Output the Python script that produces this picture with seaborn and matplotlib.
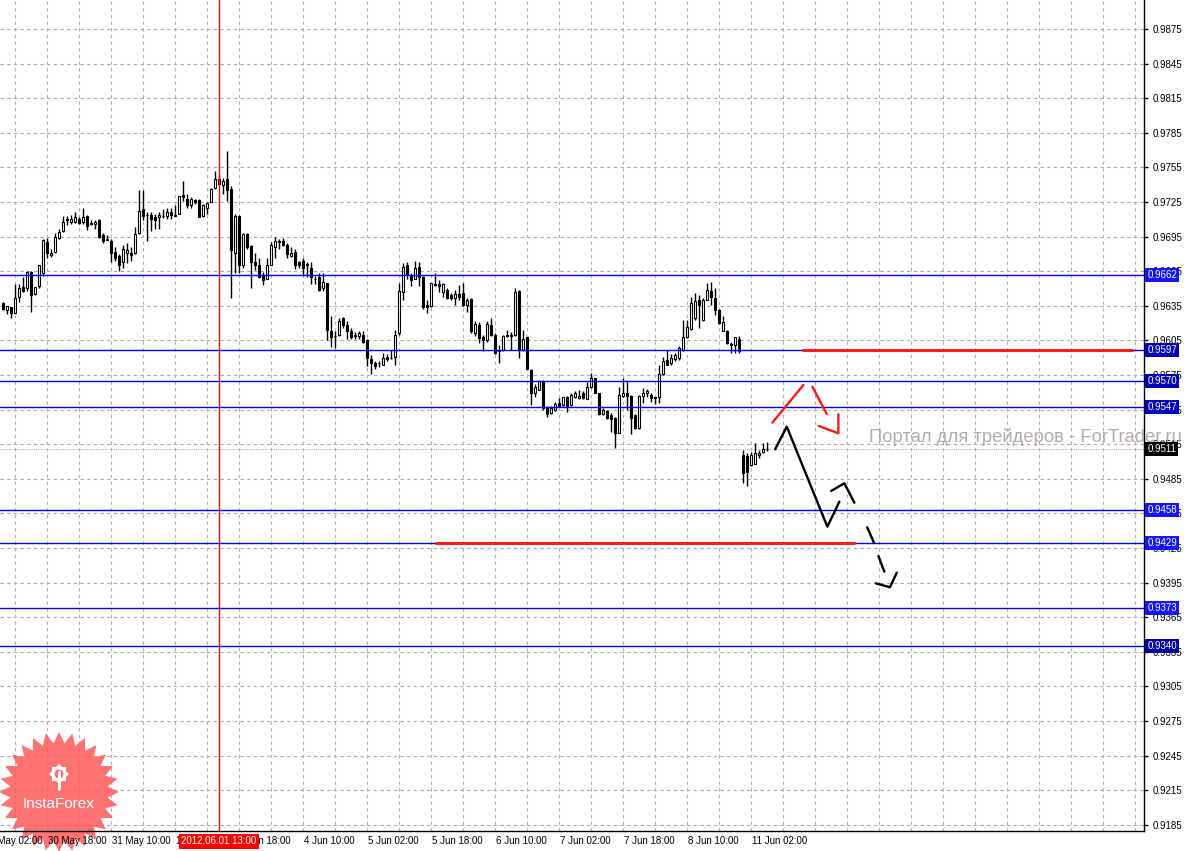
import numpy as np
import pandas as pd
import seaborn as sns
import matplotlib.pyplot as plt
from matplotlib.patches import Polygon, Circle
from matplotlib.transforms import blended_transform_factory, IdentityTransform

# H1 candles, prices in pips (price * 10000), 30 May 07:00 .. 11 Jun 06:00
opens = [9637, 9631, 9634, 9629, 9643, 9651, 9650, 9664, 9645, 9652,
         9663, 9690, 9679, 9682, 9694, 9700, 9709, 9708, 9708, 9710,
         9708, 9713, 9706, 9706, 9709, 9696, 9693, 9691, 9682, 9678,
         9673, 9681, 9681, 9681, 9698, 9719, 9714, 9714, 9712, 9712,
         9713, 9713, 9716, 9714, 9715, 9731, 9728, 9722, 9727, 9727,
         9713, 9720, 9725, 9737, 9745, 9740, 9745, 9736, 9681, 9713,
         9670, 9697, 9687, 9673, 9670, 9661, 9658, 9670, 9686, 9691,
         9691, 9688, 9678, 9682, 9673, 9674, 9671, 9668, 9658, 9660,
         9650, 9655, 9613, 9609, 9610, 9624, 9618, 9613, 9610, 9609,
         9610, 9605, 9589, 9585, 9585, 9584, 9591, 9590, 9591, 9611,
         9647, 9670, 9662, 9658, 9669, 9660, 9636, 9635, 9654, 9654,
         9647, 9649, 9644, 9642, 9645, 9646, 9636, 9641, 9611, 9618,
         9608, 9605, 9618, 9610, 9597, 9597, 9609, 9610, 9610, 9648,
         9597, 9608, 9579, 9559, 9562, 9570, 9546, 9542, 9545, 9551,
         9549, 9556, 9549, 9556, 9555, 9559, 9554, 9565, 9572, 9559,
         9541, 9544, 9540, 9538, 9525, 9557, 9559, 9557, 9540, 9529,
         9557, 9559, 9558, 9556, 9556, 9576, 9588, 9585, 9589, 9590,
         9597, 9608, 9615, 9624, 9640, 9623, 9640, 9648, 9642, 9631,
         9613, 9613, 9602, 9601, 9606, 9506, 9505, 9497, 9498, 9506,
         9508, 9511]
highs = [9638, 9635, 9634, 9654, 9654, 9660, 9665, 9665, 9651, 9670,
         9693, 9694, 9684, 9698, 9702, 9713, 9713, 9714, 9716, 9712,
         9720, 9714, 9709, 9709, 9710, 9698, 9696, 9693, 9686, 9680,
         9688, 9689, 9686, 9703, 9735, 9735, 9716, 9716, 9715, 9716,
         9719, 9720, 9720, 9722, 9730, 9743, 9732, 9729, 9728, 9728,
         9723, 9725, 9737, 9752, 9748, 9746, 9769, 9739, 9715, 9714,
         9698, 9698, 9688, 9681, 9676, 9664, 9676, 9690, 9695, 9693,
         9694, 9689, 9686, 9684, 9674, 9676, 9673, 9673, 9661, 9663,
         9663, 9655, 9626, 9613, 9624, 9625, 9622, 9616, 9612, 9613,
         9613, 9606, 9592, 9587, 9587, 9594, 9593, 9597, 9614, 9655,
         9672, 9673, 9663, 9674, 9673, 9661, 9640, 9655, 9663, 9657,
         9655, 9650, 9646, 9649, 9653, 9655, 9642, 9642, 9622, 9621,
         9610, 9622, 9624, 9611, 9601, 9610, 9614, 9612, 9650, 9649,
         9614, 9608, 9580, 9567, 9571, 9571, 9548, 9548, 9552, 9555,
         9556, 9557, 9559, 9561, 9562, 9561, 9569, 9577, 9572, 9559,
         9546, 9545, 9542, 9539, 9565, 9572, 9571, 9558, 9541, 9558,
         9564, 9563, 9559, 9556, 9584, 9591, 9597, 9593, 9594, 9600,
         9623, 9623, 9643, 9646, 9644, 9642, 9655, 9656, 9650, 9632,
         9626, 9614, 9604, 9608, 9609, 9510, 9507, 9508, 9516, 9510,
         9516, 9517]
lows = [9631, 9628, 9624, 9629, 9638, 9647, 9648, 9630, 9644, 9650,
        9661, 9676, 9677, 9681, 9693, 9699, 9705, 9706, 9707, 9706,
        9706, 9701, 9705, 9702, 9694, 9689, 9692, 9673, 9674, 9665,
        9668, 9672, 9674, 9680, 9697, 9709, 9691, 9700, 9702, 9702,
        9711, 9710, 9710, 9713, 9715, 9726, 9720, 9720, 9723, 9712,
        9712, 9715, 9725, 9736, 9740, 9732, 9726, 9642, 9663, 9663,
        9668, 9684, 9650, 9666, 9659, 9653, 9658, 9670, 9676, 9684,
        9687, 9676, 9677, 9667, 9668, 9661, 9660, 9654, 9654, 9648,
        9648, 9605, 9599, 9598, 9609, 9616, 9606, 9606, 9606, 9606,
        9603, 9583, 9576, 9580, 9582, 9584, 9587, 9589, 9584, 9610,
        9640, 9658, 9652, 9658, 9652, 9632, 9629, 9634, 9652, 9647,
        9643, 9641, 9640, 9636, 9640, 9635, 9630, 9611, 9609, 9603,
        9596, 9604, 9609, 9593, 9585, 9596, 9608, 9597, 9609, 9590,
        9596, 9580, 9549, 9556, 9562, 9545, 9539, 9541, 9544, 9548,
        9548, 9543, 9548, 9555, 9554, 9554, 9554, 9564, 9559, 9540,
        9540, 9537, 9526, 9512, 9525, 9556, 9545, 9524, 9528, 9528,
        9551, 9556, 9552, 9550, 9551, 9575, 9584, 9584, 9587, 9588,
        9596, 9607, 9614, 9623, 9616, 9622, 9640, 9636, 9627, 9619,
        9613, 9602, 9594, 9594, 9594, 9481, 9479, 9496, 9498, 9503,
        9507, 9509]
closes = [9632, 9635, 9629, 9642, 9650, 9648, 9664, 9644, 9651, 9670,
          9692, 9681, 9681, 9695, 9699, 9708, 9710, 9710, 9712, 9707,
          9712, 9704, 9707, 9708, 9695, 9691, 9692, 9681, 9676, 9670,
          9684, 9683, 9679, 9697, 9717, 9713, 9714, 9710, 9709, 9714,
          9713, 9716, 9714, 9713, 9730, 9729, 9722, 9728, 9725, 9712,
          9722, 9724, 9736, 9745, 9741, 9743, 9735, 9683, 9713, 9670,
          9697, 9686, 9673, 9670, 9660, 9657, 9670, 9688, 9691, 9690,
          9688, 9680, 9681, 9670, 9670, 9668, 9670, 9660, 9658, 9649,
          9656, 9614, 9608, 9609, 9622, 9618, 9613, 9608, 9609, 9611,
          9604, 9590, 9585, 9583, 9585, 9590, 9589, 9590, 9610, 9648,
          9669, 9662, 9657, 9668, 9660, 9634, 9634, 9655, 9653, 9652,
          9654, 9642, 9642, 9645, 9643, 9636, 9640, 9613, 9619, 9607,
          9605, 9619, 9610, 9594, 9596, 9609, 9610, 9609, 9647, 9597,
          9606, 9580, 9559, 9565, 9570, 9546, 9541, 9546, 9550, 9548,
          9556, 9547, 9558, 9559, 9557, 9555, 9565, 9572, 9559, 9541,
          9545, 9538, 9537, 9525, 9558, 9559, 9557, 9538, 9529, 9557,
          9559, 9561, 9555, 9555, 9576, 9587, 9584, 9590, 9592, 9598,
          9608, 9617, 9637, 9639, 9636, 9640, 9649, 9643, 9631, 9620,
          9621, 9603, 9601, 9608, 9596, 9490, 9491, 9506, 9507, 9507,
          9511, 9511]

# axis labels
price_ticks = [9185 + 30 * i for i in range(24)]
time_labels = ["30 May 02:00", "30 May 18:00", "31 May 10:00", "1 Jun 02:00",
               "1 Jun 18:00", "4 Jun 10:00", "5 Jun 02:00", "5 Jun 18:00",
               "6 Jun 10:00", "7 Jun 02:00", "7 Jun 18:00", "8 Jun 10:00",
               "11 Jun 02:00"]
time_label_bars = [-5 + 16 * i for i in range(13)]
marker_bar = 54
marker_label = "2012.06.01 13:00"

# horizontal levels
levels = [0.9662, 0.9597, 0.9570, 0.9547, 0.9458, 0.9429, 0.9373, 0.9340]
level_box = ["#1414ff", "#0000b4", "#0000b4", "#0000b4",
             "#1414ff", "#1414ff", "#1414ff", "#0000a0"]
bid = 0.9511

# red target segments (bar from, bar to, price)
targets = [(199.8, 282.6, 0.9597), (108.0, 213.1, 0.9429)]

# forecast paths (bar index, price)
red_path = [(192.4, 0.95337), (200.15, 0.95663)]
red_path2 = [(202.4, 0.95649), (206.0, 0.95412)]
red_head = [(204.0, 0.95308), (208.9, 0.95245), (208.9, 0.95409)]
black_path = [(193.1, 0.95106), (196.0, 0.95302), (206.15, 0.94435), (209.15, 0.94652)]
black_path2 = [(207.1, 0.94745), (210.4, 0.94811), (212.9, 0.94643)]
black_dash = [(216.1, 0.94430), (217.8, 0.94296)]
black_dash2 = [(218.9, 0.94181), (220.4, 0.94045)]
black_head = [(218.25, 0.93944), (221.8, 0.93910), (223.5, 0.94036)]

df = pd.DataFrame({"open": opens, "high": highs, "low": lows, "close": closes}) / 10000
df["bar"] = np.arange(len(df))

sns.set_style("white")
plt.rcParams["font.family"] = ["Liberation Sans", "DejaVu Sans"]

W, H = 1186, 851
FS = 7.0
fig = plt.figure(figsize=(W / 100, H / 100), dpi=100)
ax = fig.add_axes([0, 20 / H, 1144 / W, 1 - 20 / H])

# grid
grid_kw = dict(linestyle=(0, (3, 3)), linewidth=0.8, zorder=0)
for p in price_ticks:
    ax.axhline(p / 10000, color="#a8a8a8", **grid_kw)
for b in np.arange(-5, 286, 8):
    ax.axvline(b, color="#c4a0c4", **grid_kw)

# candles
up = df[df["close"] >= df["open"]]
dn = df[df["close"] < df["open"]]
ax.vlines(df["bar"], df["low"], df["high"], color="black", linewidth=1.0, zorder=3)
ax.bar(up["bar"], up["close"] - up["open"], bottom=up["open"], width=0.5,
       facecolor="white", edgecolor="black", linewidth=0.8, zorder=4)
ax.bar(dn["bar"], dn["open"] - dn["close"], bottom=dn["close"], width=0.5,
       facecolor="black", edgecolor="black", linewidth=0.8, zorder=4)

# vertical red marker
ax.axvline(marker_bar, color="red", linewidth=1.0, zorder=5)

# levels
for lv in levels:
    ax.axhline(lv, color="#0000f0", linewidth=1.0, zorder=5)
ax.axhline(bid, color="#b0b0b0", linestyle=(0, (1, 1)), linewidth=0.8, zorder=2)

for x0, x1, p in targets:
    ax.hlines(p, x0, x1, color="#ff1a1a", linewidth=2.2, zorder=6)

def path(pts, color):
    d = pd.DataFrame(pts, columns=["bar", "price"])
    sns.lineplot(data=d, x="bar", y="price", sort=False, estimator=None,
                 color=color, linewidth=1.7, ax=ax, zorder=7)

for pts in (red_path, red_path2, red_head):
    path(pts, "#ff1a1a")
for pts in (black_path, black_path2, black_dash, black_dash2, black_head):
    path(pts, "black")

# axes spines and ticks
for s in ["left", "top"]:
    ax.spines[s].set_visible(False)
for s in ["right", "bottom"]:
    ax.spines[s].set_color("black")
    ax.spines[s].set_linewidth(1.0)

ax.yaxis.tick_right()
ax.set_yticks([p / 10000 for p in price_ticks])
ax.set_yticklabels(["%.4f" % (p / 10000) for p in price_ticks])
ax.tick_params(axis="y", length=3, width=1, pad=3, labelsize=FS, colors="black")
ax.set_xticks([b for b in time_label_bars if b >= 0])
ax.set_xticklabels([])
ax.tick_params(axis="x", length=4, width=1, colors="black")
ax.set_xlabel("")
ax.set_ylabel("")
ax.grid(False)

ax.set_xlim(-0.675, 285.3)
ax.set_ylim(0.917967, 0.99001)

trx = blended_transform_factory(ax.transData, ax.transAxes)
for b, lab in zip(time_label_bars, time_labels):
    ax.text(b + 0.3, -0.0125, lab, transform=trx, fontsize=FS, color="black",
            ha="left", va="center", clip_on=False, zorder=3)

# level price boxes
tr = blended_transform_factory(ax.transAxes, ax.transData)
for lv, c in zip(levels, level_box):
    ax.text(1.003, lv, "%.4f" % lv, transform=tr, color="white", fontsize=FS,
            va="center", ha="left", clip_on=False, zorder=10,
            bbox=dict(boxstyle="square,pad=0.2", facecolor=c, edgecolor="none"))
ax.text(1.003, bid, "%.4f" % bid, transform=tr, color="white", fontsize=FS,
        va="center", ha="left", clip_on=False, zorder=10,
        bbox=dict(boxstyle="square,pad=0.2", facecolor="black", edgecolor="none"))

# red time marker label
ax.text(marker_bar, -0.0125, marker_label, transform=trx, color="white",
        fontsize=FS, ha="center", va="center", clip_on=False, zorder=10,
        bbox=dict(boxstyle="square,pad=0.25", facecolor="#ff0000", edgecolor="none"))

# watermark
fig.text(869 / W, 1 - 437 / H, "Портал для трейдеров - ForTrader.ru",
         color="#a89c9c", alpha=0.85, fontsize=13.2, ha="left", va="center")

# InstaForex badge (pixel coords, y from bottom)
px = IdentityTransform()
cx, cy = 59, H - 792
n = 28
ang = np.linspace(0, 2 * np.pi, 2 * n, endpoint=False) + np.pi / 2
rad = np.where(np.arange(2 * n) % 2 == 0, 60, 49)
star = np.column_stack([cx + rad * np.cos(ang), cy + rad * np.sin(ang)])
ax.add_patch(Polygon(star, closed=True, transform=px, clip_on=False,
                     facecolor="#ff5a5a", alpha=0.85, edgecolor="none", zorder=2))
gy = H - 774
ga = np.linspace(0, 2 * np.pi, 16, endpoint=False)
gr = np.where(np.arange(16) % 2 == 0, 10, 7.5)
gear = np.column_stack([cx + gr * np.cos(ga), gy + gr * np.sin(ga)])
ax.add_patch(Polygon(gear, closed=True, transform=px, clip_on=False,
                     facecolor="white", edgecolor="none", zorder=2.2))
ax.add_patch(Circle((cx, gy), 4.5, transform=px, clip_on=False,
                    facecolor="#ff7070", edgecolor="none", zorder=2.3))
ax.plot([cx, cx], [gy + 2, H - 789], color="white", linewidth=2.2,
        transform=px, clip_on=False, zorder=2.4)
ax.text(cx, H - 804, "InstaForex", transform=px, color="white", fontsize=11,
        ha="center", va="center", zorder=2.4, clip_on=False)

fig.savefig("out.png", dpi=100, facecolor="white")
